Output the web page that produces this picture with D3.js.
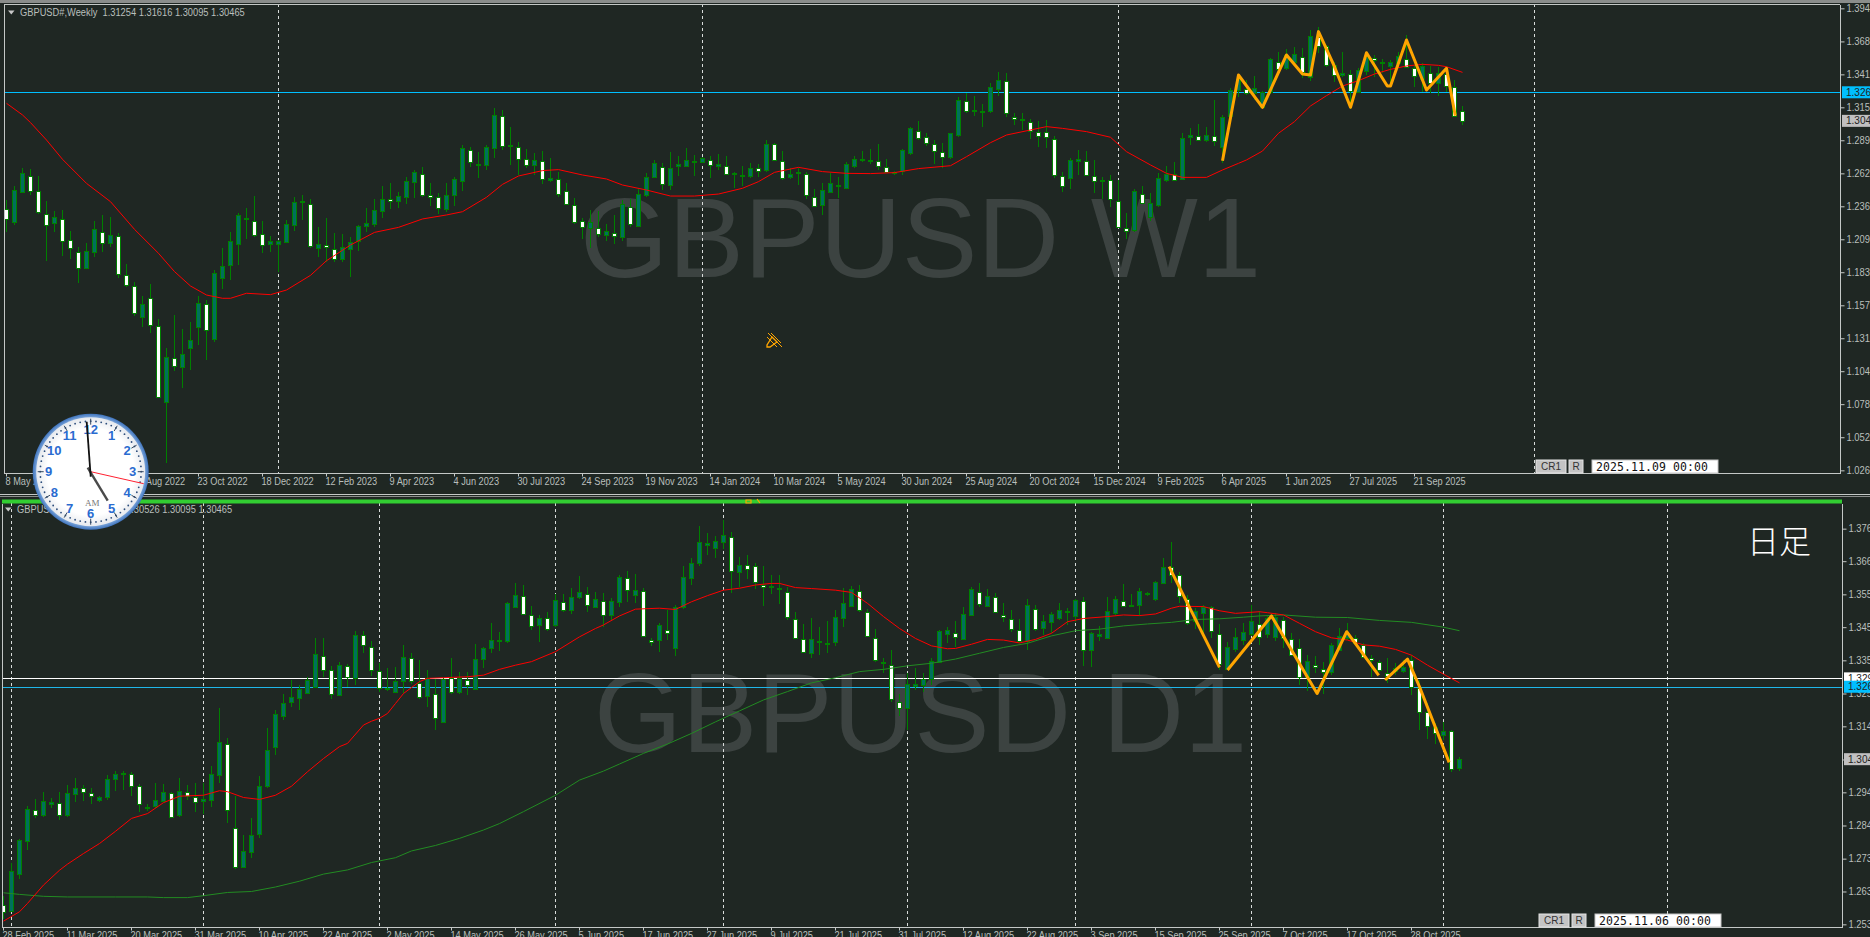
<!DOCTYPE html>
<html><head><meta charset="utf-8"><script src="https://cdn.jsdelivr.net/npm/d3@7"></script>
<style>html,body{margin:0;padding:0;background:#1f2723;overflow:hidden}svg{display:block}
text{font-family:"Liberation Sans",Arial,sans-serif}</style></head><body>
<script>
// All prices are in units of 0.0001 (13125 = 1.3125)
const wkHigh=[12416,12527,12668,12663,12607,12408,12328,12336,12168,12043,12070,12251,12296,12277,12150,11902,11761,11649,11745,11463,11232,11498,11386,11442,11649,11618,11857,12030,12160,12309,12349,12447,12248,12128,12096,12256,12442,12453,12421,12198,12269,12150,12145,12123,12213,12349,12421,12527,12554,12482,12602,12655,12681,12548,12469,12548,12602,12854,12841,12801,12854,13150,13131,12998,12876,12822,12788,12804,12748,12642,12548,12429,12269,12336,12330,12224,12296,12416,12424,12501,12628,12735,12713,12796,12769,12828,12775,12761,12769,12783,12769,12642,12687,12708,12703,12894,12868,12806,12668,12673,12639,12503,12548,12634,12596,12716,12767,12809,12822,12862,12743,12650,12822,12995,13046,12953,12894,12868,12953,13235,13272,13245,13179,13346,13440,13429,13112,13112,13059,13046,13054,12926,12642,12748,12815,12806,12735,12602,12615,12575,12309,12501,12527,12474,12628,12687,12716,12948,12987,13019,13001,13214,13094,13307,13421,13373,13405,13288,13546,13599,13618,13639,13626,13772,13793,13652,13519,13594,13453,13466,13586,13573,13538,13533,13599,13732,13493,13506,13487,13479,13466,13373,13162];
const wkLow=[12163,12219,12469,12456,12301,11931,12160,11969,11942,11756,11862,11958,12003,12043,11790,11719,11490,11405,11351,10838,10319,11054,10918,11059,11256,11139,11285,11708,11777,11897,12102,12118,11995,12003,11844,12078,12171,12256,12030,11963,11923,11923,11923,11804,12011,12163,12203,12269,12341,12349,12384,12431,12437,12370,12304,12322,12368,12490,12681,12594,12655,12753,12815,12695,12615,12668,12615,12543,12562,12442,12376,12224,12107,12030,12123,12091,12062,12091,12203,12197,12442,12588,12495,12495,12607,12676,12607,12708,12594,12655,12615,12509,12530,12588,12596,12642,12727,12575,12583,12535,12423,12357,12296,12469,12429,12503,12673,12716,12700,12655,12628,12615,12612,12777,12894,12849,12703,12673,12740,12921,13112,13086,13001,13107,13248,13075,13014,12974,12900,12838,12833,12594,12482,12503,12615,12610,12474,12421,12357,12203,12102,12163,12384,12251,12362,12562,12570,12575,12854,12886,12881,12849,12708,13080,13240,13254,13213,13139,13261,13413,13453,13493,13386,13365,13586,13480,13360,13400,13139,13267,13413,13400,13426,13325,13479,13466,13320,13280,13267,13248,13280,13075,13010];
const wkOpen=[12344,12235,12477,12610,12490,12304,12232,12267,12099,12003,11868,11995,12160,12067,12131,11820,11729,11479,11633,11413,10798,11157,11078,11229,11397,11588,11304,11788,11894,12059,12258,12251,12147,12070,12070,12083,12211,12394,12386,12027,12059,12027,11947,12030,12086,12203,12224,12322,12426,12402,12434,12554,12623,12458,12442,12338,12453,12564,12817,12692,12689,12828,13088,12841,12841,12745,12689,12729,12575,12586,12490,12376,12251,12189,12192,12131,12155,12123,12362,12208,12450,12594,12681,12530,12681,12681,12713,12713,12737,12681,12689,12626,12618,12602,12673,12650,12860,12729,12602,12626,12626,12442,12370,12474,12538,12511,12689,12732,12721,12729,12681,12631,12644,12791,12963,12916,12860,12799,12759,12929,13208,13126,13112,13120,13304,13368,13080,13051,13041,12958,12958,12905,12610,12586,12721,12729,12610,12564,12572,12410,12195,12171,12463,12282,12373,12578,12623,12580,12916,12929,12897,12929,12836,13088,13293,13304,13267,13160,13272,13517,13466,13511,13559,13400,13714,13644,13490,13413,13421,13277,13440,13551,13506,13485,13506,13543,13466,13386,13432,13346,13421,13320,13125];
const wkClose=[12264,12493,12628,12487,12320,12216,12277,12094,12033,11873,12006,12182,12070,12134,11830,11737,11511,11583,11418,10846,11160,11096,11184,11295,11591,11378,11830,11886,12086,12293,12269,12136,12056,12091,12091,12227,12397,12405,12054,12062,12046,11947,12043,12083,12205,12229,12333,12421,12413,12445,12564,12636,12455,12445,12352,12453,12580,12828,12719,12703,12836,13091,12852,12852,12743,12695,12732,12583,12588,12463,12384,12237,12205,12237,12141,12165,12128,12384,12229,12461,12596,12708,12548,12668,12700,12732,12724,12748,12700,12700,12628,12634,12607,12668,12652,12860,12732,12596,12623,12636,12455,12373,12493,12548,12527,12703,12743,12740,12732,12687,12644,12642,12812,12990,12905,12865,12804,12759,12948,13211,13131,13134,13123,13315,13373,13115,13067,13062,12966,12926,12916,12620,12533,12732,12740,12615,12567,12575,12423,12205,12168,12485,12392,12394,12588,12626,12575,12908,12932,12900,12937,12892,13075,13293,13378,13275,13307,13280,13538,13464,13573,13578,13440,13724,13644,13493,13413,13432,13283,13453,13554,13533,13517,13514,13565,13480,13402,13487,13355,13426,13325,13086,13047];
const wkMaBars=[0,2,3,5,7,10,13,16,19,21,23,25,27,28,30,33,35,38,40,43,46,49,52,55,57,60,62,64,67,69,72,75,77,80,83,86,89,92,94,96,99,102,105,108,111,114,118,120,123,125,128,130,132,135,138,140,143,145,147,150,152,154,155,157,159,161,163,165,167,169,171,173,175,177,179,180,182];
const wkMa=[13187,13094,13033,12894,12740,12548,12402,12181,11990,11844,11729,11657,11631,11631,11671,11660,11697,11814,11931,12056,12157,12197,12264,12296,12322,12437,12540,12607,12650,12658,12615,12583,12535,12495,12447,12447,12463,12509,12562,12636,12676,12642,12628,12626,12634,12666,12689,12761,12873,12934,12974,13001,12987,12961,12916,12801,12695,12628,12596,12596,12655,12708,12735,12806,12948,13041,13166,13248,13325,13368,13421,13458,13485,13498,13490,13479,13434];
const wkZigBars=[152,154,157,160,162,163,164,166,168,170,172.6,173,175,177.5,180,181.1];
const wkZig=[12729,13413,13155,13573,13421,13413,13759,13479,13155,13591,13325,13325,13692,13293,13466,13088];
const wkGridBars=[34,87,139,191];
const wkPriceTicks=[13945,13681,13418,13155,12892,12628,12365,12102,11839,11575,11312,11049,10786,10522,10258];
const wkPriceLabels=["1.39450","1.36810","1.34180","1.31550","1.28920","1.26280","1.23650","1.20960","1.18390","1.15750","1.13120","1.10490","1.07860","1.05220","1.02600"];
const wkDateBars=[0,8,16,24,32,40,48,56,64,72,80,88,96,104,112,120,128,136,144,152,160,168,176];
const wkDateLabels=["8 May 2022","3 Jul 2022","28 Aug 2022","23 Oct 2022","18 Dec 2022","12 Feb 2023","9 Apr 2023","4 Jun 2023","30 Jul 2023","24 Sep 2023","19 Nov 2023","14 Jan 2024","10 Mar 2024","5 May 2024","30 Jun 2024","25 Aug 2024","20 Oct 2024","15 Dec 2024","9 Feb 2025","6 Apr 2025","1 Jun 2025","27 Jul 2025","21 Sep 2025"];

const dyHigh=[12621,12725,12798,12901,12922,12945,12925,12944,12966,12987,12966,12956,12932,12998,13010,13011,13007,12970,12907,12972,12970,12946,12990,12966,12972,12972,13027,13205,13113,12932,12813,12863,12994,13144,13200,13251,13293,13277,13303,13422,13422,13337,13350,13343,13445,13445,13414,13345,13331,13334,13402,13376,13355,13324,13296,13298,13360,13319,13319,13404,13396,13469,13441,13536,13593,13588,13523,13495,13505,13560,13560,13578,13616,13583,13567,13562,13547,13619,13632,13622,13578,13422,13469,13510,13526,13647,13671,13771,13751,13741,13790,13752,13676,13681,13655,13647,13619,13619,13583,13505,13467,13484,13459,13476,13510,13578,13585,13588,13512,13450,13362,13386,13251,13314,13329,13314,13360,13448,13459,13476,13521,13581,13593,13576,13564,13531,13510,13481,13545,13526,13495,13505,13531,13516,13544,13550,13443,13461,13552,13554,13591,13559,13578,13567,13601,13671,13723,13629,13557,13516,13526,13524,13466,13412,13456,13469,13526,13508,13492,13500,13490,13438,13419,13370,13367,13350,13407,13453,13469,13433,13407,13370,13355,13360,13345,13355,13370,13293,13220,13158,13163,13139,13053];
const dyLow=[12552,12573,12674,12764,12863,12868,12894,12858,12868,12915,12916,12907,12915,12920,12948,12951,12932,12884,12886,12894,12915,12865,12868,12920,12884,12876,12899,12972,12849,12706,12710,12740,12803,12958,13060,13168,13210,13200,13249,13267,13303,13233,13243,13270,13277,13376,13305,13257,13260,13253,13253,13282,13234,13210,13137,13160,13251,13251,13246,13262,13331,13376,13383,13407,13516,13498,13448,13412,13446,13459,13503,13498,13544,13505,13516,13459,13477,13521,13536,13531,13425,13398,13381,13417,13368,13513,13588,13647,13681,13671,13699,13562,13581,13606,13575,13524,13560,13529,13479,13422,13379,13362,13370,13376,13399,13459,13521,13503,13427,13350,13314,13225,13181,13137,13262,13257,13277,13345,13407,13396,13417,13492,13519,13519,13500,13474,13443,13407,13386,13446,13433,13438,13479,13464,13474,13336,13332,13415,13419,13495,13521,13521,13492,13554,13539,13590,13593,13531,13464,13450,13427,13422,13324,13324,13381,13402,13430,13402,13424,13415,13391,13367,13277,13259,13314,13249,13308,13383,13417,13402,13360,13303,13319,13284,13308,13316,13246,13137,13111,13094,13106,13008,13010];
const dyOpen=[12594,12575,12691,12793,12890,12871,12909,12912,12873,12940,12958,12943,12918,12927,12983,12999,13002,12965,12893,12899,12917,12943,12871,12946,12930,12916,12918,12998,13095,12834,12713,12759,12815,12961,13083,13182,13223,13235,13253,13270,13368,13324,13244,13337,13298,13434,13396,13322,13269,13257,13288,13362,13284,13241,13250,13163,13298,13253,13294,13264,13357,13390,13414,13412,13519,13555,13496,13463,13487,13462,13536,13511,13549,13561,13519,13539,13493,13535,13609,13558,13570,13418,13415,13449,13393,13518,13611,13657,13713,13701,13720,13738,13628,13651,13647,13589,13581,13576,13567,13483,13421,13375,13410,13404,13412,13483,13524,13570,13505,13422,13344,13340,13225,13204,13275,13278,13298,13349,13437,13440,13420,13496,13565,13521,13550,13495,13483,13447,13414,13512,13452,13471,13485,13503,13490,13539,13388,13431,13424,13498,13539,13523,13524,13563,13543,13593,13643,13619,13545,13476,13503,13521,13436,13329,13390,13417,13435,13467,13435,13427,13479,13420,13392,13303,13340,13327,13317,13386,13422,13422,13402,13361,13349,13316,13321,13323,13355,13267,13193,13146,13122,13135,13018];
const dyClose=[12571,12699,12796,12891,12875,12916,12914,12875,12941,12959,12947,12934,12928,12984,13000,13003,12966,12909,12897,12919,12944,12868,12947,12934,12916,12922,13000,13099,12891,12714,12763,12813,12965,13074,13186,13223,13239,13264,13293,13374,13326,13249,13338,13303,13433,13402,13324,13270,13265,13290,13363,13290,13241,13298,13174,13297,13255,13298,13277,13357,13391,13416,13417,13531,13556,13500,13463,13484,13453,13540,13512,13550,13565,13526,13544,13495,13537,13612,13572,13572,13430,13413,13463,13440,13521,13612,13657,13723,13718,13724,13742,13631,13651,13640,13596,13583,13585,13580,13488,13425,13382,13419,13414,13407,13489,13531,13577,13510,13432,13353,13348,13233,13205,13279,13282,13296,13353,13444,13448,13428,13497,13576,13528,13553,13503,13488,13453,13412,13525,13450,13475,13497,13509,13507,13540,13388,13440,13436,13508,13543,13525,13527,13568,13559,13596,13643,13619,13554,13469,13508,13521,13445,13343,13396,13427,13443,13475,13427,13484,13489,13423,13370,13303,13353,13333,13318,13401,13431,13438,13407,13365,13354,13324,13308,13330,13334,13272,13192,13149,13127,13135,13018,13047];
const dyRedBars=[0,2,3,5,7,8,10,12,14,16,18,20,22,25,27,28,30,32,34,36,38,40,42,43,45,46,47,48,49,50,52,53,55,58,60,62,64,66,69,72,74,75,77,79,82,84,86,88,90,92,94,96,97,99,101,104,106,108,110,112,114,116,118,119,121,123,125,127,129,131,133,135,138,140,142,144,146,147,150,152,154,157,158,160,162,164,166,168,170,172,174,176,178,180,182];
const dyRed=[12544,12573,12599,12656,12702,12721,12754,12785,12823,12863,12878,12912,12932,12935,12949,12946,12928,12922,12935,12963,13008,13049,13086,13096,13153,13165,13174,13189,13220,13251,13288,13298,13300,13303,13308,13326,13339,13350,13381,13427,13453,13464,13492,13513,13516,13512,13536,13555,13572,13578,13588,13593,13593,13580,13577,13572,13565,13531,13490,13453,13422,13399,13390,13391,13404,13419,13417,13408,13419,13438,13474,13484,13490,13495,13493,13498,13516,13522,13521,13508,13500,13505,13502,13495,13469,13443,13424,13417,13402,13398,13388,13370,13339,13311,13284];
const dyGreenBars=[0,2,5,8,14,18,20,23,25,28,31,34,37,40,43,46,49,51,54,57,60,62,65,69,72,75,77,80,83,86,89,92,95,98,101,104,107,110,113,116,119,122,125,128,131,134,137,140,143,146,149,152,155,157,160,164,168,172,176,180,182];
const dyGreen=[12632,12627,12621,12619,12619,12619,12617,12617,12623,12633,12636,12650,12668,12690,12703,12726,12741,12762,12779,12801,12827,12847,12884,12935,12982,13010,13032,13065,13094,13127,13163,13197,13231,13257,13284,13300,13319,13326,13337,13345,13358,13376,13394,13407,13430,13446,13451,13461,13467,13472,13481,13483,13488,13492,13495,13488,13487,13478,13472,13457,13446];
const dyZigBars=[[145.7,152],[153,158.5,164.2,167.9,171.9],[172.7,175.5,177,180.7]];
const dyZig=[[13645,13332],[13324,13492,13251,13443,13307],[13293,13358,13272,13037]];
const dyGridBars=[1,25,47,69,90,113,134,156,180,208];
const dyPriceTicks=[13763,13662,13559,13457,13354,13251,13149,13046,12944,12841,12738,12636,12534];
const dyPriceLabels=["1.37630","1.36610","1.35590","1.34570","1.33540","1.32510","1.31490","1.30460","1.29440","1.28410","1.27380","1.26360","1.25340"];
const dyDateBars=[0,8,16,24,32,40,48,56,64,72,80,88,96,104,112,120,128,136,144,152,160,168,176];
const dyDateLabels=["28 Feb 2025","11 Mar 2025","20 Mar 2025","31 Mar 2025","10 Apr 2025","22 Apr 2025","2 May 2025","14 May 2025","26 May 2025","5 Jun 2025","17 Jun 2025","27 Jun 2025","9 Jul 2025","21 Jul 2025","31 Jul 2025","12 Aug 2025","22 Aug 2025","3 Sep 2025","15 Sep 2025","25 Sep 2025","7 Oct 2025","17 Oct 2025","28 Oct 2025"];
const wkBlue=13275, dyBlue=13272, whitePrice=13298, lastPrice=13047;
const clockNumerals=["12","1","2","3","4","5","6","7","8","9","10","11"];

const BG="#1f2723",FRAME="#c4c8c6",TXT="#b9bfbc",GREEN="#008000",TEAL="#00705c";
const svg=d3.select("body").append("svg").attr("width",1870).attr("height",937);
const defs=svg.append("defs");
const g1=defs.append("radialGradient").attr("id","ring");
[[0.85,"#cfe0f2"],[0.93,"#7fa8dc"],[1,"#3f74bd"]].forEach(s=>g1.append("stop").attr("offset",s[0]).attr("stop-color",s[1]));
const g2=defs.append("radialGradient").attr("id","face");
[[0,"#ffffff"],[0.8,"#ffffff"],[1,"#e6e9ee"]].forEach(s=>g2.append("stop").attr("offset",s[0]).attr("stop-color",s[1]));

// squeeze text horizontally to match the narrow UI font of the original
function narrow(sel,k){sel.each(function(){const w=this.getComputedTextLength();d3.select(this).attr("textLength",w*k).attr("lengthAdjust","spacingAndGlyphs");});}

svg.append("rect").attr("width",1870).attr("height",3).attr("fill","#8a8d8b");
svg.append("rect").attr("y",494).attr("width",1870).attr("height",1).attr("fill",FRAME);
svg.append("rect").attr("y",496).attr("width",1870).attr("height",1).attr("fill","#8a8d8b");

function panel(c){
  const g=svg.append("g");
  const x=d3.scaleLinear().domain([0,100]).range([c.x0,c.x0+800]);
  const y=d3.scaleLinear().domain(c.pDomain).range(c.yRange);
  const {left,right,top,bottom}=c;
  const clipId="clip"+c.id;
  defs.append("clipPath").attr("id",clipId).append("rect").attr("x",left).attr("y",top).attr("width",right-left).attr("height",bottom-top);
  const body=g.append("g").attr("clip-path",`url(#${clipId})`);
  body.append("text").attr("x",c.wm[1]).attr("y",c.wm[2]).attr("font-size",c.wm[3]).attr("fill","#3c4341").text(c.wm[0]);
  body.selectAll(".grid").data(c.grid).enter().append("line")
    .attr("x1",d=>Math.round(x(d))+.5).attr("x2",d=>Math.round(x(d))+.5).attr("y1",top).attr("y2",bottom)
    .attr("stroke","#d8dcda").attr("stroke-dasharray","3,3").attr("shape-rendering","crispEdges");
  const hl=(p,col)=>body.append("line").attr("x1",left).attr("x2",right).attr("y1",Math.round(y(p))+.5).attr("y2",Math.round(y(p))+.5).attr("stroke",col).attr("shape-rendering","crispEdges");
  c.hlines.forEach(h=>hl(h[0],h[1]));
  const idx=d3.range(c.o.length);
  body.selectAll(".wick").data(idx).enter().append("line")
    .attr("x1",i=>x(i)+.5).attr("x2",i=>x(i)+.5).attr("y1",i=>y(c.h[i])).attr("y2",i=>y(c.l[i]))
    .attr("stroke",GREEN).attr("shape-rendering","crispEdges");
  body.selectAll(".bar").data(idx).enter().append("rect")
    .attr("x",i=>x(i)-1.5).attr("width",4)
    .attr("y",i=>Math.round(y(Math.max(c.o[i],c.c[i])))+.5)
    .attr("height",i=>Math.max(1,Math.round(y(Math.min(c.o[i],c.c[i]))-y(Math.max(c.o[i],c.c[i])))))
    .attr("fill",i=>c.c[i]<c.o[i]?"#ffffff":TEAL).attr("stroke",GREEN).attr("shape-rendering","crispEdges");
  const ln=d3.line().x(d=>x(d[0])+.5).y(d=>y(d[1]));
  c.lines.forEach(l=>body.append("path").attr("d",ln(d3.zip(l[0],l[1]))).attr("fill","none").attr("stroke",l[2]).attr("stroke-width",l[3]));
  c.zig.forEach(z=>body.append("path").attr("d",ln(d3.zip(z[0],z[1]))).attr("fill","none").attr("stroke","#ffa500").attr("stroke-width",3).attr("stroke-linejoin","round"));

  // frame
  g.append("path").attr("d",`M${left+.5},${top+.5}V${bottom+.5}H${right+.5}V${top+.5}`+(c.topLine?`M${left},${top+.5}H${right}`:""))
   .attr("fill","none").attr("stroke",FRAME).attr("shape-rendering","crispEdges");

  // axes
  const ax=d3.axisBottom(x).tickValues(c.dateBars).tickSize(3).tickFormat((d,i)=>c.dateLabels[i]);
  const gx=g.append("g").attr("transform",`translate(0,${bottom+.5})`).call(ax);
  gx.select(".domain").remove();
  gx.selectAll("line").attr("stroke",FRAME);
  gx.selectAll("text").attr("fill",TXT).attr("font-size",10).attr("font-family","Liberation Sans").attr("text-anchor","start").attr("dx",-1).attr("y",4).attr("dy","0.71em");
  narrow(gx.selectAll("text"),0.92);
  const ay=d3.axisRight(y).tickValues(c.ticks).tickSize(4).tickPadding(2).tickFormat((d,i)=>c.tickLabels[i]);
  const gy=g.append("g").attr("transform",`translate(${right+.5},0)`).call(ay);
  gy.select(".domain").remove();
  gy.selectAll("line").attr("stroke",FRAME);
  gy.selectAll("text").attr("fill",TXT).attr("font-size",10).attr("font-family","Liberation Sans");
  narrow(gy.selectAll("text"),0.94);

  // price tags
  c.tags.forEach(t=>{
    const ty=y(t[0]);
    g.append("rect").attr("x",right+2).attr("y",ty-6).attr("width",30).attr("height",12).attr("fill",t[1]);
    g.append("text").attr("x",right+6).attr("y",ty+3.5).attr("font-size",10).attr("fill","#222").text(t[2]);
  });

  // header
  g.append("path").attr("d",`M${c.hx-12},${c.hy-5}h6.5l-3.2,4z`).attr("fill","#c8c8c8");
  const ht=g.append("text").attr("x",c.hx).attr("y",c.hy).attr("font-size",10).attr("fill",TXT).attr("xml:space","preserve").text(c.title);
  narrow(ht,0.93);

  // buttons
  const [bx,by]=c.btn;
  [[0,30,"CR1"],[33,14,"R"]].forEach(b=>{
    g.append("rect").attr("x",bx+b[0]).attr("y",by).attr("width",b[1]).attr("height",13).attr("fill","#c4c4c4").attr("stroke","#e4e4e4");
    g.append("text").attr("x",bx+b[0]+b[1]/2).attr("y",by+10).attr("text-anchor","middle").attr("font-size",10).attr("fill","#333").text(b[2]);
  });
  g.append("rect").attr("x",bx+56).attr("y",by).attr("width",126).attr("height",13).attr("fill","#fff").attr("stroke","#c4c4c4");
  g.append("text").attr("x",bx+60).attr("y",by+10.5).attr("font-size",11.5).attr("fill","#111").attr("style","font-family:'DejaVu Sans Mono',monospace").attr("textLength",112).text(c.stamp);
  return {x,y,g};
}

panel({id:1,x0:6,left:4,right:1840,top:4,bottom:473,pDomain:[13945,10258],yRange:[8.33,470.33],
  wm:["GBPUSD W1",580,277,113.5],grid:wkGridBars,hlines:[[wkBlue,"#00bfff"]],
  o:wkOpen,h:wkHigh,l:wkLow,c:wkClose,lines:[[wkMaBars,wkMa,"#ff0000",1]],zig:[[wkZigBars,wkZig]],
  dateBars:wkDateBars,dateLabels:wkDateLabels,ticks:wkPriceTicks,tickLabels:wkPriceLabels,
  tags:[[wkBlue,"#00bfff","1.3260"],[lastPrice,"#c0c0c0","1.3046"]],topLine:true,
  hx:20,hy:15.5,title:"GBPUSD#,Weekly  1.31254 1.31616 1.30095 1.30465",btn:[1536,460],stamp:"2025.11.09 00:00"});

panel({id:2,x0:3,left:2,right:1842,top:503,bottom:927,pDomain:[13763,12534],yRange:[528.67,924.33],
  wm:["GBPUSD D1",594,752,113],grid:dyGridBars,hlines:[[whitePrice,"#ffffff"],[dyBlue,"#1fb6e8"]],
  o:dyOpen,h:dyHigh,l:dyLow,c:dyClose,lines:[[dyGreenBars,dyGreen,"#228b22",1],[dyRedBars,dyRed,"#ff0000",1]],
  zig:d3.zip(dyZigBars,dyZig),
  dateBars:dyDateBars,dateLabels:dyDateLabels,ticks:dyPriceTicks,tickLabels:dyPriceLabels,
  tags:[[whitePrice,"#ffffff","1.3298"],[dyBlue,"#00bfff","1.3260"],[lastPrice,"#c0c0c0","1.3046"]],topLine:false,
  hx:17,hy:512.5,title:"GBPUSD#,Daily  1.30205 1.30526 1.30095 1.30465",btn:[1539,914],stamp:"2025.11.06 00:00"});
svg.append("rect").attr("x",2).attr("y",499.5).attr("width",1840).attr("height",4).attr("fill","#32cd32");
svg.append("text").attr("x",1747).attr("y",553).attr("font-size",32).attr("fill","#fff").attr("style","font-family:'Noto Sans CJK JP';font-weight:300").text("日足");

// pencil cursor marks
const pen=svg.append("g").attr("transform","translate(766,332)").attr("fill","none").attr("stroke","#ffa500");
pen.append("path").attr("d","M2,1L16,15M5,1L15,11M1,5L11,15");
pen.append("path").attr("d","M6,5L1,13L1,15L4,15L11,10Z").attr("stroke-width",1.3);
svg.append("path").attr("d","M746,500h5v3h-5zM757,499l3,4").attr("fill","none").attr("stroke","#ffa500").attr("stroke-width",1.2);

// clock
const cx=90.7,cy=471.7,R=58;
const ck=svg.append("g").attr("transform",`translate(${cx},${cy})`);
ck.append("circle").attr("r",R).attr("fill","url(#ring)");
ck.append("circle").attr("r",R-3.5).attr("fill","url(#face)");
const ang=h=>(h/12)*2*Math.PI;
ck.selectAll(".dot").data(d3.range(60)).enter().append("circle")
  .attr("cx",d=>Math.sin(d/60*2*Math.PI)*(R-7.5)).attr("cy",d=>-Math.cos(d/60*2*Math.PI)*(R-7.5))
  .attr("r",.9).attr("fill","#2c4d7c");
ck.selectAll(".maj").data(d3.range(12)).enter().append("line")
  .attr("x1",d=>Math.sin(ang(d))*(R-11)).attr("y1",d=>-Math.cos(ang(d))*(R-11))
  .attr("x2",d=>Math.sin(ang(d))*(R-5)).attr("y2",d=>-Math.cos(ang(d))*(R-5))
  .attr("stroke","#33475f").attr("stroke-width",1);
ck.selectAll(".num").data(clockNumerals).enter().append("text")
  .attr("x",(d,i)=>Math.sin(ang(i))*(R-16)).attr("y",(d,i)=>-Math.cos(ang(i))*(R-16)+4.5)
  .attr("text-anchor","middle").attr("font-size",13).attr("font-weight","bold").attr("fill","#2a6bd0").text(d=>d);
ck.append("text").attr("x",1.5).attr("y",34).attr("text-anchor","middle").attr("font-size",9).attr("fill","#777").attr("style","font-family:'Liberation Serif',serif").text("AM");
ck.append("line").attr("x1",0).attr("y1",0).attr("x2",53).attr("y2",12).attr("stroke","#ff2030").attr("stroke-width",1);
ck.append("line").attr("x1",-3).attr("y1",-4).attr("x2",17).attr("y2",29).attr("stroke","#4a4a4a").attr("stroke-width",2.4);
ck.append("line").attr("x1",0).attr("y1",5).attr("x2",-4).attr("y2",-50).attr("stroke","#111").attr("stroke-width",1.8);
</script></body></html>
